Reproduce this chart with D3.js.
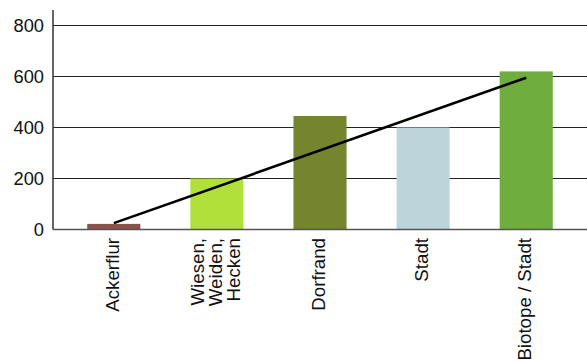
<!DOCTYPE html>
<html>
<head>
<meta charset="utf-8">
<script src="https://cdn.jsdelivr.net/npm/d3@7"></script>
<style>
  html, body { margin: 0; padding: 0; background: #fff; }
  svg { display: block; font-family: "Liberation Sans", Arial, Helvetica, sans-serif; }
</style>
</head>
<body>
<svg id="chart" width="587" height="362"></svg>
<script>
// Habitat categories (label lines for the rotated axis text)
const categories = ["Ackerflur", "Wiesen, Weiden, Hecken", "Dorfrand", "Stadt", "Biotope / Stadt"];
const categoryLines = [["Ackerflur"], ["Wiesen,", "Weiden,", "Hecken"], ["Dorfrand"], ["Stadt"], ["Biotope / Stadt"]];
const values = [22, 200, 445, 400, 620];
const barColors = ["#8a524c", "#b2e03a", "#74852e", "#bed4db", "#6fae3e"];
// Trend line endpoints
const trendCategories = ["Ackerflur", "Biotope / Stadt"];
const trendValues = [25, 595];
const yTicks = [0, 200, 400, 600, 800];

const svg = d3.select("#chart");
const left = 53, right = 587;

const x = d3.scaleBand()
  .domain(categories)
  .range([left, right])
  .paddingInner(0.485)
  .paddingOuter(0.332);

const y = d3.scaleLinear()
  .domain([0, 800])
  .range([229.5, 25.5]);

// Horizontal grid lines
svg.append("g")
  .selectAll("line")
  .data(yTicks.filter(d => d > 0))
  .join("line")
  .attr("x1", left).attr("x2", right)
  .attr("y1", d => y(d)).attr("y2", d => y(d))
  .attr("stroke", "#222")
  .attr("stroke-width", 1.2);

// Y tick labels
svg.append("g")
  .selectAll("text")
  .data(yTicks)
  .join("text")
  .attr("x", left - 9)
  .attr("y", d => y(d))
  .attr("dy", "0.35em")
  .attr("text-anchor", "end")
  .attr("font-size", 18.3)
  .attr("fill", "#111")
  .text(d => d);

// Bars
svg.append("g")
  .selectAll("rect")
  .data(categories)
  .join("rect")
  .attr("x", d => x(d))
  .attr("width", x.bandwidth())
  .attr("y", (d, i) => y(values[i]))
  .attr("height", (d, i) => y(0) - y(values[i]))
  .attr("fill", (d, i) => barColors[i]);

// Axes lines
svg.append("line")
  .attr("x1", left).attr("x2", left)
  .attr("y1", 10).attr("y2", y(0))
  .attr("stroke", "#333").attr("stroke-width", 1.5);
svg.append("line")
  .attr("x1", left).attr("x2", right)
  .attr("y1", y(0)).attr("y2", y(0))
  .attr("stroke", "#555").attr("stroke-width", 1.5);

// Trend line
const line = d3.line()
  .x((d, i) => x(trendCategories[i]) + x.bandwidth() / 2)
  .y(d => y(d));
svg.append("path")
  .datum(trendValues)
  .attr("d", line)
  .attr("fill", "none")
  .attr("stroke", "#000")
  .attr("stroke-width", 2.6);

// Rotated category labels
const lineH = 18;
const labels = svg.append("g")
  .selectAll("text")
  .data(categories)
  .join("text")
  .attr("transform", d => `translate(${x(d) + x.bandwidth() / 2 - 1.5},238) rotate(-90)`)
  .attr("text-anchor", "end")
  .attr("font-size", 18.7)
  .attr("fill", "#111");

labels.each(function(d, i) {
  const ls = categoryLines[i];
  const n = ls.length;
  d3.select(this).selectAll("tspan")
    .data(ls)
    .join("tspan")
    .attr("x", 0)
    .attr("y", (t, j) => (j - (n - 1) / 2) * lineH)
    .attr("dy", "0.35em")
    .text(t => t);
});
</script>
</body>
</html>
